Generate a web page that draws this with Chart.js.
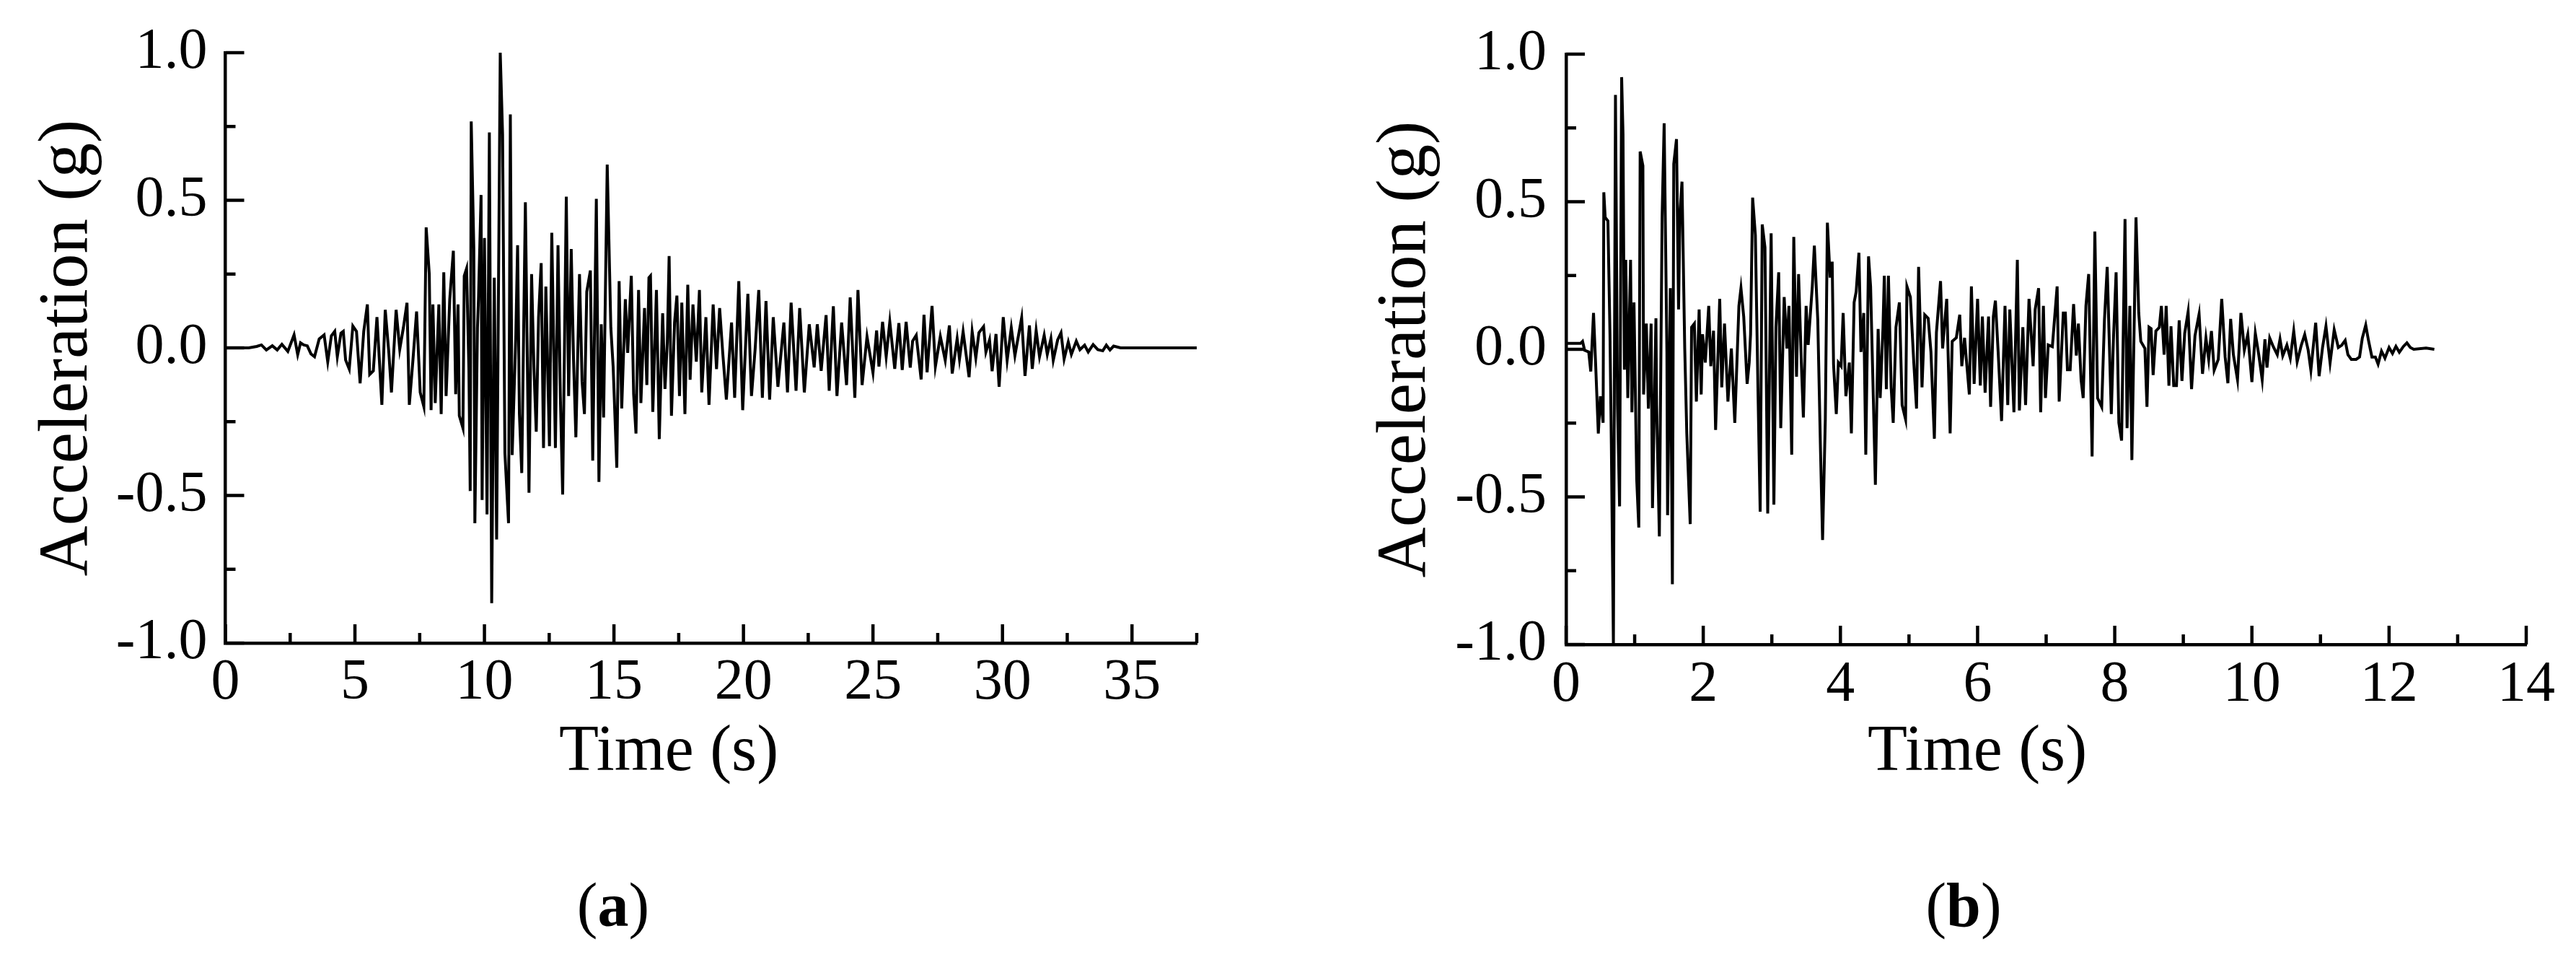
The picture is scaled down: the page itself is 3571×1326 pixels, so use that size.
<!DOCTYPE html>
<html>
<head>
<meta charset="utf-8">
<script src="https://cdn.jsdelivr.net/npm/chart.js@4.4.1/dist/chart.umd.min.js"></script>
<style>
  html, body { margin: 0; padding: 0; background: #fff; }
  body { width: 3571px; height: 1326px; position: relative; overflow: hidden; }
  canvas { position: absolute; top: 0; }
  #chartA { left: 0; }
  #chartB { left: 1785px; }
</style>
</head>
<body>
<canvas id="chartA" width="1785" height="1326"></canvas>
<canvas id="chartB" width="1786" height="1326"></canvas>
<script>
// record (a): time in s and acceleration in g, peaks and troughs
const timeA = [
  0, 0.9, 1.21, 1.39, 1.58, 1.81, 2.00, 2.18, 2.41, 2.65,
  2.79, 2.90, 3.02, 3.16, 3.30, 3.44, 3.62, 3.81, 3.95, 4.09,
  4.22, 4.32, 4.46, 4.55, 4.64, 4.78, 4.92, 5.06, 5.20, 5.34,
  5.48, 5.57, 5.71, 5.85, 6.04, 6.17, 6.31, 6.41, 6.59, 6.73,
  6.87, 7.01, 7.10, 7.24, 7.38, 7.52, 7.66, 7.75, 7.87, 7.94,
  8.01, 8.10, 8.24, 8.33, 8.43, 8.52, 8.66, 8.80, 8.89, 8.98,
  9.03, 9.17, 9.22, 9.31, 9.40, 9.45, 9.49, 9.59, 9.63, 9.73,
  9.77, 9.87, 9.91, 10.00, 10.10, 10.19, 10.28, 10.38, 10.47, 10.61,
  10.70, 10.79, 10.93, 11.00, 11.07, 11.21, 11.28, 11.35, 11.44, 11.58,
  11.72, 11.82, 11.91, 12.00, 12.09, 12.19, 12.28, 12.37, 12.51, 12.60,
  12.74, 12.84, 12.93, 13.02, 13.16, 13.25, 13.35, 13.44, 13.53, 13.67,
  13.77, 13.86, 13.95, 14.09, 14.18, 14.32, 14.42, 14.51, 14.60, 14.74,
  14.88, 14.97, 15.11, 15.20, 15.30, 15.44, 15.53, 15.67, 15.76, 15.85,
  15.95, 16.04, 16.18, 16.27, 16.35, 16.41, 16.50, 16.64, 16.75, 16.88,
  16.97, 17.06, 17.13, 17.22, 17.34, 17.43, 17.53, 17.62, 17.74, 17.85,
  17.94, 18.05, 18.18, 18.30, 18.39, 18.55, 18.67, 18.83, 18.96, 19.08,
  19.20, 19.34, 19.54, 19.66, 19.82, 19.97, 20.17, 20.31, 20.45, 20.59,
  20.73, 20.87, 21.01, 21.15, 21.33, 21.56, 21.70, 21.84, 22.03, 22.17,
  22.35, 22.54, 22.73, 22.85, 23.00, 23.19, 23.31, 23.47, 23.61, 23.79,
  23.98, 24.12, 24.30, 24.42, 24.58, 24.77, 25.00, 25.14, 25.23, 25.37,
  25.51, 25.65, 25.84, 26.00, 26.13, 26.28, 26.44, 26.53, 26.67, 26.86,
  26.97, 27.09, 27.28, 27.41, 27.60, 27.79, 27.95, 28.06, 28.25, 28.34,
  28.48, 28.71, 28.83, 28.97, 29.09, 29.27, 29.36, 29.50, 29.60, 29.75,
  29.87, 30.03, 30.18, 30.34, 30.48, 30.74, 30.87, 31.04, 31.15, 31.30,
  31.43, 31.61, 31.73, 31.87, 31.96, 32.13, 32.26, 32.38, 32.54, 32.66,
  32.85, 32.99, 33.17, 33.31, 33.50, 33.68, 33.87, 34.01, 34.15, 34.29,
  34.56, 37.5
];
const accA = [
  0, 0, 0.005, 0.010, -0.007, 0.007, -0.007, 0.012, -0.012, 0.044,
  -0.023, 0.017, 0.010, 0.007, -0.020, -0.030, 0.030, 0.044, -0.047, 0.041,
  0.056, -0.030, 0.050, 0.056, -0.041, -0.072, 0.074, 0.056, -0.120, 0.056,
  0.147, -0.090, -0.078, 0.104, -0.193, 0.129, -0.017, -0.151, 0.129, -0.005,
  0.068, 0.153, -0.193, -0.041, 0.123, -0.151, -0.199, 0.408, 0.250, -0.211,
  0.147, -0.187, 0.147, -0.224, 0.256, -0.163, 0.165, 0.329, -0.157, 0.147,
  -0.230, -0.272, 0.244, 0.269, -0.072, -0.485, 0.767, 0.335, -0.594, 0.068,
  0.165, 0.518, -0.515, 0.372, -0.564, 0.730, -0.865, 0.238, -0.649, 1.0,
  0.724, -0.357, -0.594, 0.791, -0.363, 0.038, 0.348, -0.224, -0.424, 0.493,
  -0.491, 0.250, -0.066, -0.284, 0.104, 0.287, -0.339, 0.208, -0.333, 0.390,
  -0.339, 0.348, -0.163, -0.497, 0.512, -0.163, 0.335, -0.041, -0.303, 0.250,
  -0.114, -0.224, 0.190, 0.262, -0.382, 0.505, -0.454, 0.080, -0.236, 0.621,
  0.068, -0.066, -0.406, 0.226, -0.205, 0.165, -0.017, 0.244, -0.157, -0.290,
  0.196, -0.187, 0.135, -0.126, 0.238, 0.244, -0.217, 0.196, -0.309, 0.117,
  -0.139, 0.019, 0.311, -0.230, 0.086, 0.177, -0.163, 0.153, -0.224, 0.214,
  -0.108, 0.147, -0.047, 0.196, -0.151, 0.104, -0.193, 0.147, -0.072, 0.135,
  -0.017, -0.175, 0.086, -0.169, 0.226, -0.211, 0.183, -0.163, -0.005, 0.196,
  -0.169, 0.159, -0.175, 0.104, -0.132, 0.086, -0.151, 0.153, -0.145, 0.135,
  -0.151, 0.080, -0.066, 0.080, -0.078, 0.111, -0.145, 0.141, -0.163, 0.086,
  -0.126, 0.171, -0.169, 0.196, -0.126, 0.038, -0.084, 0.059, -0.063, 0.088,
  -0.030, 0.088, -0.071, 0.084, -0.075, 0.088, -0.067, 0.023, 0.043, -0.107,
  0.112, -0.083, 0.142, -0.063, 0.039, -0.042, 0.076, -0.087, 0.031, -0.038,
  0.055, -0.099, 0.055, -0.034, 0.051, 0.072, -0.014, 0.027, -0.079, 0.047,
  -0.132, 0.104, -0.042, 0.068, -0.026, 0.102, -0.095, 0.076, -0.071, 0.059,
  -0.030, 0.043, -0.022, 0.031, -0.042, 0.027, 0.051, -0.038, 0.020, -0.022,
  0.023, -0.006, 0.009, -0.014, 0.011, -0.006, -0.010, 0.009, -0.007, 0.006,
  0, 0
];

// record (b)
const timeB = [
  0, 0.21, 0.24, 0.27, 0.33, 0.36, 0.40, 0.43, 0.47, 0.50,
  0.54, 0.55, 0.57, 0.61, 0.64, 0.66, 0.69, 0.72, 0.75, 0.78,
  0.81, 0.83, 0.85, 0.87, 0.90, 0.94, 0.96, 0.99, 1.03, 1.06,
  1.08, 1.12, 1.13, 1.17, 1.20, 1.24, 1.26, 1.31, 1.32, 1.36,
  1.40, 1.43, 1.47, 1.48, 1.52, 1.55, 1.57, 1.61, 1.64, 1.66,
  1.69, 1.73, 1.76, 1.81, 1.83, 1.87, 1.90, 1.94, 1.97, 1.99,
  2.03, 2.08, 2.11, 2.15, 2.18, 2.24, 2.27, 2.31, 2.36, 2.41,
  2.46, 2.52, 2.55, 2.59, 2.64, 2.67, 2.69, 2.72, 2.76, 2.80,
  2.83, 2.86, 2.90, 2.94, 2.99, 3.03, 3.06, 3.10, 3.13, 3.18,
  3.22, 3.25, 3.29, 3.32, 3.36, 3.39, 3.43, 3.46, 3.50, 3.53,
  3.59, 3.62, 3.67, 3.71, 3.74, 3.78, 3.81, 3.85, 3.88, 3.90,
  3.94, 3.97, 4.01, 4.04, 4.08, 4.13, 4.16, 4.20, 4.23, 4.27,
  4.30, 4.34, 4.37, 4.41, 4.44, 4.48, 4.51, 4.55, 4.58, 4.62,
  4.64, 4.67, 4.70, 4.74, 4.77, 4.81, 4.86, 4.90, 4.95, 4.97,
  5.02, 5.07, 5.11, 5.14, 5.19, 5.23, 5.28, 5.32, 5.37, 5.40,
  5.46, 5.49, 5.55, 5.60, 5.63, 5.69, 5.74, 5.77, 5.81, 5.88,
  5.91, 5.95, 6.00, 6.04, 6.07, 6.11, 6.16, 6.19, 6.23, 6.26,
  6.30, 6.35, 6.40, 6.44, 6.47, 6.53, 6.58, 6.61, 6.66, 6.70,
  6.75, 6.81, 6.84, 6.89, 6.92, 6.96, 6.99, 7.03, 7.09, 7.16,
  7.19, 7.25, 7.28, 7.31, 7.35, 7.40, 7.44, 7.47, 7.51, 7.54,
  7.58, 7.62, 7.67, 7.71, 7.75, 7.81, 7.85, 7.89, 7.95, 7.98,
  8.02, 8.06, 8.10, 8.15, 8.18, 8.22, 8.25, 8.31, 8.35, 8.38,
  8.44, 8.47, 8.50, 8.53, 8.56, 8.60, 8.65, 8.68, 8.72, 8.75,
  8.79, 8.82, 8.86, 8.90, 8.94, 8.98, 9.02, 9.07, 9.12, 9.17,
  9.23, 9.28, 9.33, 9.37, 9.41, 9.45, 9.51, 9.56, 9.61, 9.65,
  9.69, 9.73, 9.79, 9.84, 9.89, 9.94, 10.00, 10.05, 10.10, 10.15,
  10.19, 10.22, 10.26, 10.31, 10.37, 10.41, 10.45, 10.51, 10.56, 10.61,
  10.66, 10.72, 10.77, 10.82, 10.86, 10.93, 10.98, 11.03, 11.08, 11.14,
  11.20, 11.26, 11.31, 11.36, 11.40, 11.45, 11.52, 11.57, 11.61, 11.66,
  11.70, 11.75, 11.80, 11.84, 11.89, 11.94, 12.00, 12.05, 12.10, 12.15,
  12.21, 12.26, 12.31, 12.36, 12.54, 12.66
];
const accB = [
  0.02, 0.02, 0.027, -0.003, -0.009, -0.075, 0.123, -0.045, -0.285, -0.159,
  -0.249, 0.532, 0.447, 0.435, 0.051, -0.321, -1.0, 0.862, -0.189, -0.532,
  0.922, 0.730, -0.069, 0.303, -0.165, 0.303, -0.213, 0.159, -0.441, -0.604,
  0.670, 0.622, -0.153, 0.087, -0.201, 0.087, -0.538, 0.105, -0.189, -0.634,
  0.447, 0.766, -0.009, -0.562, 0.207, -0.796, 0.628, 0.712, 0.135, 0.459,
  0.568, 0.003, -0.285, -0.592, 0.075, 0.087, -0.177, 0.135, -0.153, 0.051,
  -0.045, 0.147, -0.057, 0.063, -0.273, 0.171, -0.129, 0.087, -0.177, 0.003,
  -0.249, 0.147, 0.207, 0.111, -0.117, -0.045, 0.051, 0.514, 0.387, -0.165,
  -0.550, 0.423, 0.345, -0.556, 0.393, -0.526, 0.075, 0.261, -0.267, 0.177,
  0.003, 0.147, -0.357, 0.381, -0.093, 0.255, -0.045, -0.231, 0.147, 0.015,
  0.213, 0.351, 0.099, -0.345, -0.646, -0.237, 0.429, 0.243, 0.297, -0.051,
  -0.219, -0.045, -0.057, 0.123, -0.159, -0.045, -0.285, 0.159, 0.195, 0.327,
  -0.009, 0.123, -0.357, 0.315, 0.213, -0.165, -0.459, 0.069, -0.165, 0.069,
  0.249, -0.135, 0.249, -0.129, -0.249, 0.075, 0.159, -0.189, -0.237, 0.213,
  0.177, -0.045, -0.201, 0.279, -0.129, 0.117, 0.105, -0.009, -0.303, 0.057,
  0.231, 0.003, 0.171, -0.285, 0.027, 0.039, 0.117, -0.057, 0.039, -0.153,
  0.213, -0.117, 0.171, -0.123, 0.111, -0.147, 0.111, -0.195, 0.111, 0.165,
  -0.009, -0.243, 0.147, -0.189, 0.135, -0.213, 0.303, -0.207, 0.075, -0.189,
  0.171, -0.057, 0.135, 0.207, -0.213, 0.147, -0.165, 0.015, 0.009, 0.213,
  -0.177, 0.123, 0.123, -0.069, -0.069, 0.153, -0.021, 0.087, -0.105, -0.165,
  0.147, 0.255, -0.363, 0.399, -0.165, -0.195, 0.099, 0.279, -0.219, 0.027,
  0.261, -0.249, -0.309, 0.441, -0.267, 0.147, -0.375, 0.447, 0.123, 0.027,
  0.003, -0.195, 0.075, 0.070, -0.087, 0.062, 0.074, 0.147, -0.018, 0.147,
  -0.123, 0.078, -0.123, -0.123, 0.098, -0.107, 0.054, 0.127, -0.135, 0.046,
  0.119, -0.083, 0.038, -0.034, 0.062, -0.071, -0.034, 0.171, -0.026, -0.115,
  0.103, -0.018, -0.103, 0.123, -0.002, 0.050, -0.111, 0.054, -0.018, -0.103,
  0.034, -0.062, 0.038, 0.010, -0.018, 0.034, -0.022, 0.014, -0.030, 0.062,
  -0.042, 0.014, 0.050, -0.002, -0.071, 0.090, -0.091, 0.006, 0.078, -0.046,
  0.066, 0.006, 0.014, 0.030, -0.018, -0.034, -0.034, -0.026, 0.038, 0.082,
  0.030, -0.026, -0.026, -0.050, -0.006, -0.030, 0.006, -0.014, 0.010, -0.010,
  0.010, 0.022, 0.006, 0.000, 0.004, 0.000
];

const FONT = "'Liberation Serif', 'Times New Roman', serif";
Chart.defaults.font.family = FONT;
Chart.defaults.color = '#000';

// inward major/minor tick marks, Origin style
const innerTicks = {
  id: 'innerTicks',
  afterDraw(chart, args, o) {
    const { ctx, chartArea: a, scales: { x, y } } = chart;
    ctx.save();
    ctx.strokeStyle = '#000';
    ctx.lineWidth = 4.5;
    const nx = Math.round((x.max - x.min) / o.xMinor);
    for (let i = 0; i <= nx; i++) {
      const px = x.getPixelForValue(x.min + i * o.xMinor);
      const len = i % 2 === 0 ? 26 : 14;
      ctx.beginPath();
      ctx.moveTo(px, a.bottom);
      ctx.lineTo(px, a.bottom - len);
      ctx.stroke();
    }
    const ny = Math.round((y.max - y.min) / o.yMinor);
    for (let i = 0; i <= ny; i++) {
      const py = y.getPixelForValue(y.min + i * o.yMinor);
      const len = i % 2 === 0 ? 26 : 14;
      ctx.beginPath();
      ctx.moveTo(a.left, py);
      ctx.lineTo(a.left + len, py);
      ctx.stroke();
    }
    ctx.restore();
  }
};

// x title and panel caption
const texts = {
  id: 'texts',
  afterDraw(chart, args, o) {
    const { ctx } = chart;
    ctx.save();
    ctx.fillStyle = '#000';
    ctx.textBaseline = 'alphabetic';
    ctx.textAlign = 'center';
    ctx.font = `90px ${FONT}`;
    ctx.fillText('Time (s)', o.titleX, o.titleY);

    ctx.textAlign = 'left';
    ctx.font = `86px ${FONT}`;
    const wp = ctx.measureText('(').width;
    const wq = ctx.measureText(')').width;
    ctx.font = `bold 86px ${FONT}`;
    const wl = ctx.measureText(o.letter).width;
    let x0 = o.capX - (wp + wl + wq) / 2;
    ctx.font = `86px ${FONT}`;
    ctx.fillText('(', x0, o.capY);
    ctx.font = `bold 86px ${FONT}`;
    ctx.fillText(o.letter, x0 + wp, o.capY);
    ctx.font = `86px ${FONT}`;
    ctx.fillText(')', x0 + wp + wl, o.capY);
    ctx.restore();
  }
};

function makeChart(id, time, acc, p) {
  const pts = time.map((t, i) => ({ x: t, y: acc[i] }));
  const canvas = document.getElementById(id);
  return new Chart(canvas, {
    type: 'line',
    data: {
      datasets: [{
        data: pts,
        borderColor: '#000',
        borderWidth: 4,
        pointRadius: 0,
        tension: 0,
        fill: false
      }]
    },
    options: {
      responsive: false,
      animation: false,
      devicePixelRatio: 1,
      layout: { padding: { left: 0, top: p.top, right: canvas.width - p.right, bottom: 0 } },
      plugins: {
        legend: { display: false },
        tooltip: { enabled: false },
        innerTicks: { xMinor: p.xMinor, yMinor: 0.25 },
        texts: { titleX: p.titleX, titleY: 1067, letter: p.letter, capX: p.capX, capY: 1283 }
      },
      scales: {
        x: {
          type: 'linear',
          min: 0,
          max: p.xMax,
          afterFit: s => { s.height = canvas.height - p.bottom; },
          grid: { display: true, drawOnChartArea: false, drawTicks: false },
          border: { display: true, color: '#000', width: 4.5 },
          ticks: {
            stepSize: p.xStep,
            includeBounds: false,
            padding: p.xPad,
            maxRotation: 0,
            autoSkip: false,
            font: { size: 80, lineHeight: 1.2 },
            callback: v => String(v)
          }
        },
        y: {
          type: 'linear',
          min: -1,
          max: 1,
          afterFit: s => { s.width = p.left; },
          grid: { display: true, drawOnChartArea: false, drawTicks: false },
          border: { display: true, color: '#000', width: 4.5 },
          title: {
            display: true,
            text: 'Acceleration (g)',
            font: { size: 97, lineHeight: 1.2 },
            padding: { top: p.yTitlePad, bottom: 0 }
          },
          ticks: {
            stepSize: 0.5,
            padding: p.yPad,
            font: { size: 80 },
            callback: v => v.toFixed(1)
          }
        }
      }
    },
    plugins: [innerTicks, texts]
  });
}

makeChart('chartA', timeA, accA, {
  left: 312.5, right: 1659, top: 72, bottom: 891,
  xMax: 37.5, xStep: 5, xMinor: 2.5, xPad: 8, yPad: 25, yTitlePad: 36,
  titleX: 927, letter: 'a', capX: 850
});
makeChart('chartB', timeB, accB, {
  left: 386, right: 1717, top: 65, bottom: 893,
  xMax: 14, xStep: 2, xMinor: 1, xPad: 9, yPad: 27, yTitlePad: 106,
  titleX: 956, letter: 'b', capX: 937
});
</script>
</body>
</html>
